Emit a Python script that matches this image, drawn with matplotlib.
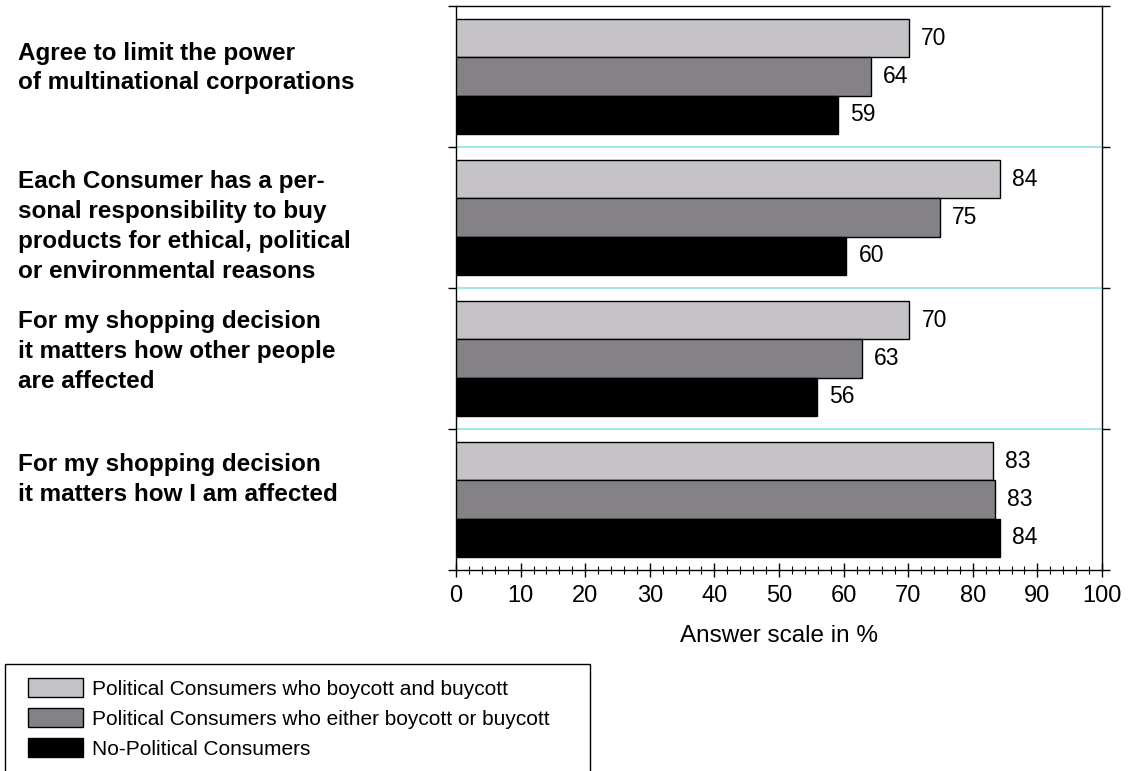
import matplotlib
matplotlib.use("Agg")
import matplotlib.pyplot as plt
from matplotlib.patches import Rectangle, Patch
from matplotlib.ticker import MultipleLocator

plt.rcParams['font.family'] = ['Liberation Sans', 'DejaVu Sans']

# statements, top to bottom
categories = [
    "Agree to limit the power\nof multinational corporations",
    "Each Consumer has a per-\nsonal responsibility to buy\nproducts for ethical, political\nor environmental reasons",
    "For my shopping decision\nit matters how other people\nare affected",
    "For my shopping decision\nit matters how I am affected",
]
series_names = [
    "Political Consumers who boycott and buycott",
    "Political Consumers who either boycott or buycott",
    "No-Political Consumers",
]
# bar lengths as drawn, and the printed labels
boycott_and_buycott = [70.1, 84.2, 70.2, 83.1]
either_boycott_or_buycott = [64.2, 74.9, 62.8, 83.4]
non_political = [59.1, 60.4, 55.9, 84.2]
labels_and = [70, 84, 70, 83]
labels_either = [64, 75, 63, 83]
labels_non = [59, 60, 56, 84]

colors = ['#c6c3c8', '#858287', '#000000']

fig = plt.figure(figsize=(11.35, 7.71), dpi=100)
ax = fig.add_axes([456 / 1135, 1 - 570 / 771, (1102 - 456) / 1135, (570 - 6) / 771])

n = len(categories)
bar_h = 0.27
series = [boycott_and_buycott, either_boycott_or_buycott, non_political]
labels = [labels_and, labels_either, labels_non]
for k, (vals, labs) in enumerate(zip(series, labels)):
    ys = [n - i - 0.5 + (1 - k) * bar_h for i in range(n)]
    ax.barh(ys, vals, height=bar_h, color=colors[k], edgecolor='black',
            linewidth=1.0, label=series_names[k], zorder=3)
    for y, v, lab in zip(ys, vals, labs):
        ax.text(v + 1.9, y, str(lab), va='center', ha='left', fontsize=16.5)

# separators between statements
for y in range(1, n):
    ax.axhline(y, color='#8fe3ea', linewidth=1.2, zorder=1)

# the statement texts sit a little off the middle of their band
label_shift = [0.06, -0.064, 0.05, 0.14]
for i, cat in enumerate(categories):
    ax.text(-0.678, n - i - 0.5 + label_shift[i], cat, transform=ax.get_yaxis_transform(),
            ha='left', va='center', fontsize=17.5, fontweight='bold',
            linespacing=1.38)

ax.set_xlim(0, 100)
ax.set_ylim(0, n)
ax.xaxis.set_major_locator(MultipleLocator(10))
ax.xaxis.set_minor_locator(MultipleLocator(2))
ax.tick_params(axis='x', which='major', direction='inout', length=10, width=1,
               labelsize=17, pad=5.5)
ax.tick_params(axis='x', which='minor', direction='inout', length=6, width=0.8)
ax.set_yticks(range(0, n + 1))
ax.set_yticklabels([])
ax.tick_params(axis='y', which='major', direction='out', length=6, width=1,
               left=True, right=True)
for s in ax.spines.values():
    s.set_linewidth(1.0)
ax.set_xlabel("Answer scale in %", fontsize=17.5, labelpad=13.5)

# legend box, runs off the bottom edge like the original
fig.patches.append(Rectangle((5 / 1135, -20 / 771), (590 - 5) / 1135, (771 - 664 + 20) / 771,
                             transform=fig.transFigure, facecolor='white',
                             edgecolor='black', linewidth=1.0))
handles = [Patch(facecolor=c, edgecolor='black', linewidth=1.0) for c in colors]
fig.legend(handles, series_names, loc='upper left',
           bbox_to_anchor=(28 / 1135, 1 - 678.5 / 771), frameon=False,
           fontsize=15, handlelength=2.64, handleheight=1.0, labelspacing=0.45,
           handletextpad=0.43, borderaxespad=0, borderpad=0)

fig.savefig("out.png", dpi=100)
